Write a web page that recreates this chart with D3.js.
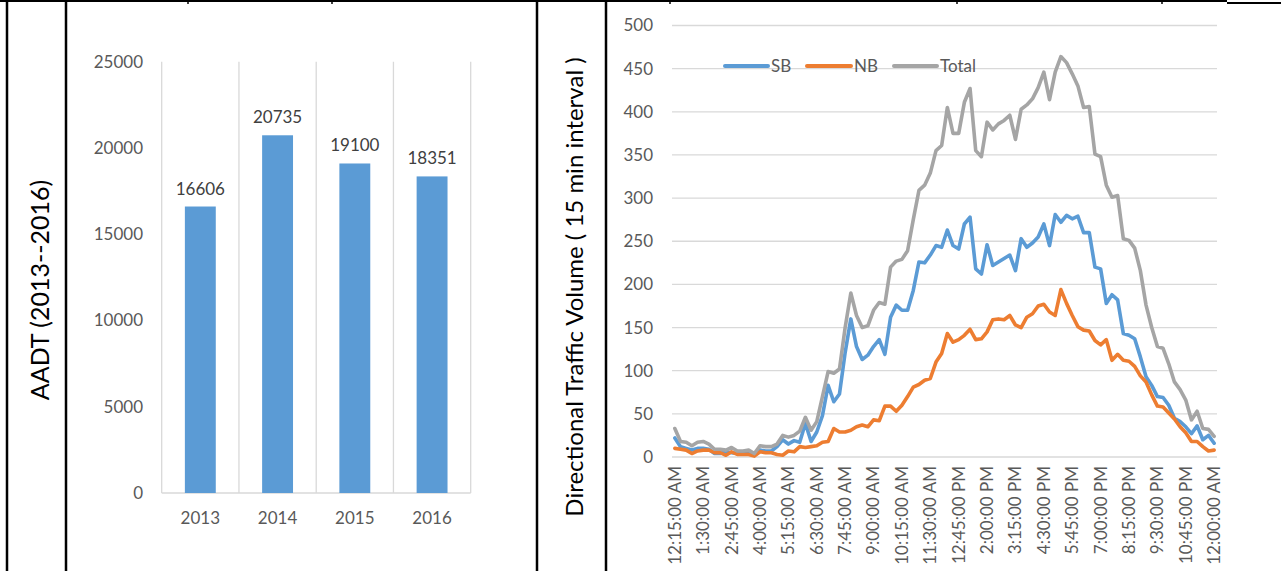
<!DOCTYPE html>
<html>
<head>
<meta charset="utf-8">
<script src="https://cdn.jsdelivr.net/npm/d3@7"></script>
<style>
  html, body { margin: 0; padding: 0; background: #fff; }
  svg { display: block; }
  text { font-family: Lato, "Open Sans", sans-serif; }
</style>
</head>
<body>
<svg id="chart" width="1281" height="571"></svg>
<script>
// ---------- DATA ----------
const years = ["2013", "2014", "2015", "2016"];
const aadt = [16606, 20735, 19100, 18351];
const aadtTicks = [0, 5000, 10000, 15000, 20000, 25000];

const seriesNames = ["SB", "NB", "Total"];
const sb = [22, 12, 10, 8, 10, 10, 9, 4, 4, 6, 5, 4, 4, 5, 3, 8, 7, 7, 12, 20,
  15, 19, 17, 39, 18, 29, 48, 83, 64, 73, 121, 160, 128, 113, 118, 128, 136, 119, 162, 176,
  170, 170, 193, 226, 225, 234, 245, 243, 263, 245, 241, 270, 278, 218, 212, 246, 222, 226, 230, 234,
  216, 253, 243, 248, 255, 270, 245, 281, 272, 280, 276, 279, 260, 260, 220, 218, 178, 188, 182, 143,
  141, 137, 116, 93, 83, 70, 69, 60, 45, 41, 35, 27, 36, 20, 25, 16];
const nb = [10, 9, 8, 4, 7, 8, 8, 5, 5, 2, 6, 3, 3, 3, 1, 6, 5, 5, 3, 2,
  7, 6, 12, 11, 12, 13, 17, 18, 33, 29, 29, 31, 35, 37, 35, 43, 42, 59, 59, 53,
  60, 70, 81, 84, 89, 91, 110, 120, 143, 133, 136, 141, 148, 136, 137, 145, 159, 160, 159, 164,
  153, 150, 162, 166, 175, 177, 168, 164, 194, 178, 164, 151, 147, 146, 135, 130, 136, 112, 119, 112,
  111, 105, 94, 87, 72, 59, 58, 51, 44, 35, 28, 18, 18, 12, 7, 8];
const total = [33, 18, 17, 13, 17, 18, 15, 9, 9, 8, 11, 7, 7, 8, 4, 13, 12, 12, 15, 25,
  23, 25, 30, 46, 31, 41, 70, 99, 97, 102, 150, 190, 164, 150, 152, 170, 179, 177, 220, 227,
  229, 239, 275, 309, 315, 329, 355, 361, 405, 375, 375, 411, 427, 355, 348, 388, 379, 386, 390, 396,
  368, 403, 408, 415, 428, 446, 414, 446, 464, 457, 444, 430, 405, 406, 351, 348, 315, 301, 303, 253,
  251, 242, 216, 176, 150, 128, 126, 108, 87, 78, 66, 43, 53, 33, 32, 24];
const volumeTicks = [0, 50, 100, 150, 200, 250, 300, 350, 400, 450, 500];
const timeTickLabels = ["12:15:00 AM", "1:30:00 AM", "2:45:00 AM", "4:00:00 AM", "5:15:00 AM",
  "6:30:00 AM", "7:45:00 AM", "9:00:00 AM", "10:15:00 AM", "11:30:00 AM", "12:45:00 PM",
  "2:00:00 PM", "3:15:00 PM", "4:30:00 PM", "5:45:00 PM", "7:00:00 PM", "8:15:00 PM",
  "9:30:00 PM", "10:45:00 PM", "12:00:00 AM"];

// 96 fifteen-minute intervals, 12:15 AM through 12:00 AM
const fmt = d3.timeFormat("%-I:%M:%S %p");
const times = d3.range(96).map(i => fmt(new Date(2016, 0, 1, 0, 15 * (i + 1))));

const colors = { SB: "#5B9BD5", NB: "#ED7D31", Total: "#A5A5A5" };
const grid = "#D9D9D9", txt = "#595959";

const svg = d3.select("#chart");

// ---------- TABLE BORDERS ----------
const borders = svg.append("g").attr("stroke", "#000");
[7, 66, 537, 606].forEach(x => borders.append("line")
  .attr("x1", x).attr("x2", x).attr("y1", 0).attr("y2", 571).attr("stroke-width", 2.5));
borders.append("line").attr("x1", 0).attr("x2", 1227).attr("y1", 1).attr("y2", 1).attr("stroke-width", 2);
borders.append("line").attr("x1", 1227).attr("x2", 1281).attr("y1", 3).attr("y2", 3).attr("stroke-width", 2);
[188, 332, 670, 957, 1162].forEach(x => borders.append("line")
  .attr("x1", x).attr("x2", x).attr("y1", 0).attr("y2", 4).attr("stroke-width", 1.5));

// ---------- LEFT: AADT BAR CHART ----------
const L = { left: 161.7, right: 470.7, top: 61.7, bottom: 493 };
const xb = d3.scaleBand().domain(years).range([L.left, L.right]).paddingInner(0.6).paddingOuter(0.3);
const yb = d3.scaleLinear().domain([0, 25000]).range([L.bottom, L.top]);
const step = xb.step();
const gl = svg.append("g");

// vertical category gridlines
d3.range(years.length + 1).forEach(k => {
  const x = L.left + k * step;
  gl.append("line").attr("x1", x).attr("x2", x).attr("y1", L.top).attr("y2", L.bottom)
    .attr("stroke", grid).attr("stroke-width", 1.3);
});
gl.append("line").attr("x1", L.left).attr("x2", L.right).attr("y1", L.bottom).attr("y2", L.bottom)
  .attr("stroke", grid).attr("stroke-width", 1.3);

gl.selectAll("rect.bar").data(years).join("rect").attr("class", "bar")
  .attr("x", d => xb(d)).attr("width", xb.bandwidth())
  .attr("y", (d, i) => yb(aadt[i])).attr("height", (d, i) => yb(0) - yb(aadt[i]))
  .attr("fill", colors.SB);

gl.selectAll("text.val").data(years).join("text").attr("class", "val")
  .attr("x", d => xb(d) + xb.bandwidth() / 2).attr("y", (d, i) => yb(aadt[i]) - 12)
  .attr("text-anchor", "middle").attr("font-size", 17).attr("fill", "#404040")
  .text((d, i) => aadt[i]);

const yAxisL = d3.axisLeft(yb).tickValues(aadtTicks).tickSize(0).tickPadding(0).tickFormat(d3.format("d"));
const gya = gl.append("g").attr("transform", `translate(${143},0)`).call(yAxisL);
gya.select(".domain").remove();
gya.selectAll("text").attr("font-size", 17).attr("fill", txt).attr("font-family", "Lato, 'Open Sans', sans-serif");

const xAxisL = d3.axisBottom(xb).tickSize(0).tickPadding(0);
const gxa = gl.append("g").attr("transform", `translate(0,${L.bottom + 19})`).call(xAxisL);
gxa.select(".domain").remove();
gxa.selectAll("text").attr("font-size", 17).attr("fill", txt).attr("font-family", "Lato, 'Open Sans', sans-serif");

gl.append("text").attr("transform", "translate(49,290) rotate(-90)")
  .attr("text-anchor", "middle").attr("font-size", 25).attr("fill", "#000")
  .text("AADT (2013--2016)");

// ---------- RIGHT: DIRECTIONAL VOLUME LINE CHART ----------
const R = { left: 672, right: 1217, top: 25.5, bottom: 457 };
const xp = d3.scalePoint().domain(times).range([R.left, R.right]).padding(0.5);
const yp = d3.scaleLinear().domain([0, 500]).range([R.bottom, R.top]);
const gr = svg.append("g");

volumeTicks.forEach(v => gr.append("line")
  .attr("x1", R.left).attr("x2", R.right).attr("y1", yp(v)).attr("y2", yp(v))
  .attr("stroke", grid).attr("stroke-width", 1.3));

const yAxisR = d3.axisLeft(yp).tickValues(volumeTicks).tickSize(0).tickPadding(0);
const gyr = gr.append("g").attr("transform", `translate(${653},0)`).call(yAxisR);
gyr.select(".domain").remove();
gyr.selectAll("text").attr("font-size", 17).attr("fill", txt).attr("font-family", "Lato, 'Open Sans', sans-serif");

const tickIdx = timeTickLabels.map(l => times.indexOf(l, l === "12:00:00 AM" ? 90 : 0));
const gxr = gr.append("g");
gxr.selectAll("text").data(tickIdx).join("text")
  .attr("transform", d => `translate(${xp(times[d])},466) rotate(-90)`)
  .attr("text-anchor", "end").attr("dy", "0.35em")
  .attr("font-size", 17).attr("fill", txt)
  .text(d => times[d]);

const seriesData = { SB: sb, NB: nb, Total: total };
const line = d3.line().x((d, i) => xp(times[i])).y(d => yp(d));
seriesNames.forEach(name => {
  gr.append("path").datum(seriesData[name]).attr("d", line)
    .attr("fill", "none").attr("stroke", colors[name]).attr("stroke-width", 3.6)
    .attr("stroke-linejoin", "round").attr("stroke-linecap", "round");
});

// legend
const legendPos = [{ n: "SB", x1: 725, x2: 768 }, { n: "NB", x1: 807, x2: 851 }, { n: "Total", x1: 894, x2: 937 }];
const lg = gr.append("g");
legendPos.forEach(p => {
  lg.append("line").attr("x1", p.x1).attr("x2", p.x2).attr("y1", 66).attr("y2", 66)
    .attr("stroke", colors[p.n]).attr("stroke-width", 4).attr("stroke-linecap", "round");
  lg.append("text").attr("x", p.x2 + 3).attr("y", 66).attr("dy", "0.35em")
    .attr("font-size", 17).attr("fill", txt).text(p.n);
});

gr.append("text").attr("transform", "translate(583,287) rotate(-90)")
  .attr("text-anchor", "middle").attr("font-size", 24).attr("fill", "#000")
  .text("Directional Traffic Volume ( 15 min interval )");
</script>
</body>
</html>
